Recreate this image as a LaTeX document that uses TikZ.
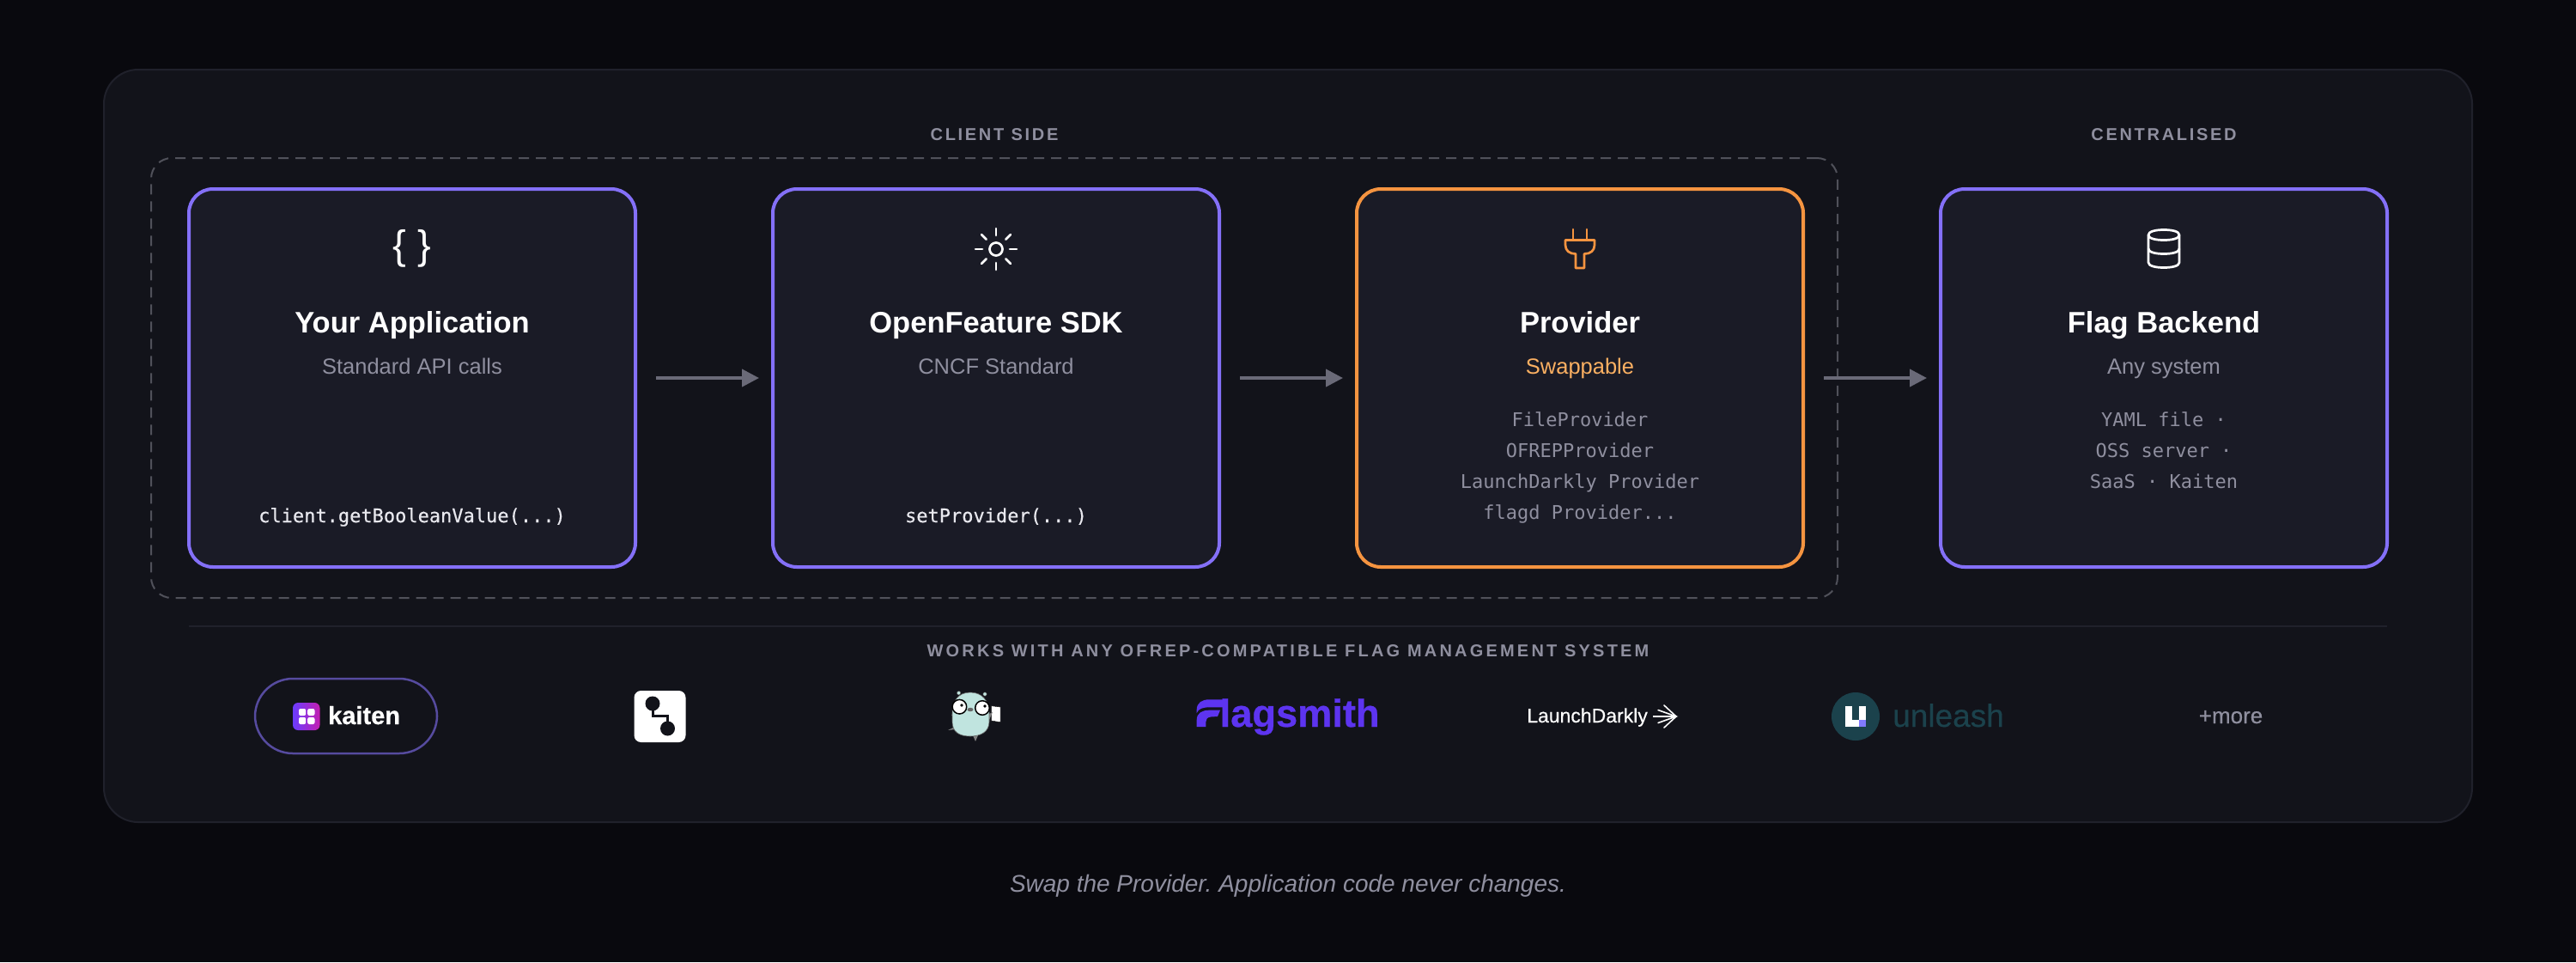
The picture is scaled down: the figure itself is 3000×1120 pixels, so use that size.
\documentclass[tikz,border=0pt]{standalone}
\usepackage{fontspec}
\usetikzlibrary{arrows.meta,calc}
\setmainfont{Liberation Sans}
\newfontfamily\monofam{DejaVu Sans Mono}
\newfontfamily\monomed[FakeBold=0.35]{DejaVu Sans Mono}
\newfontfamily\spacedfam[LetterSpace=13.5]{Liberation Sans}
\newfontfamily\widefam[LetterSpace=16]{Liberation Sans}
\newfontfamily\medfam[FakeBold=0.35]{Liberation Sans}
\newfontfamily\blackfam[FakeBold=0.6]{Liberation Sans Bold}
\definecolor{pagebg}{HTML}{09090E}
\definecolor{panelbg}{HTML}{12131A}
\definecolor{panelline}{HTML}{20212B}
\definecolor{cardbg}{HTML}{1A1B26}
\definecolor{violet}{HTML}{8470F8}
\definecolor{amber}{HTML}{F59440}
\definecolor{amberlite}{HTML}{FBB062}
\definecolor{muted}{HTML}{8F8F9F}
\definecolor{dash}{HTML}{50515A}
\definecolor{flow}{HTML}{6A6A78}
\definecolor{fs}{HTML}{5D34F0}
\definecolor{unl}{HTML}{1B424C}
\definecolor{code}{HTML}{E8E8EE}
\definecolor{kblue}{HTML}{6A3CFF}
\definecolor{kmag}{HTML}{C41FB0}
\definecolor{upurple}{HTML}{817AFE}
\definecolor{gopherbody}{HTML}{C0E4DF}
\tikzset{
  panel/.style={draw=panelline,fill=panelbg,line width=2pt,rounded corners=40pt,minimum width=2758pt,minimum height=876pt,inner sep=0pt},
  dashbox/.style={draw=dash,line width=2pt,dash pattern=on 12pt off 8pt,rounded corners=24pt,minimum width=1964pt,minimum height=512pt,inner sep=0pt},
  card/.style={fill=cardbg,line width=4pt,rounded corners=28pt,minimum width=520pt,minimum height=440pt,inner sep=0pt,outer sep=0pt},
  vcard/.style={card,draw=violet},
  ocard/.style={card,draw=amber},
  flowline/.style={draw=flow,line width=4pt,shorten <=24pt,shorten >=16pt,-{Triangle[length=20pt,width=20pt]}},
  txt/.style={inner sep=0pt,anchor=base,text=white},
  section/.style={txt,text=muted,font=\spacedfam\bfseries\fontsize{20}{24}\selectfont},
  title/.style={txt,font=\bfseries\fontsize{34.5}{40}\selectfont},
  sub/.style={txt,text=muted,font=\fontsize{25.5}{30}\selectfont},
  codeline/.style={txt,text=code,font=\monomed\fontsize{22}{26}\selectfont},
  listline/.style={txt,text=muted,font=\monofam\fontsize{22}{26}\selectfont},
  iconw/.style={draw=white,line width=2.7pt,line cap=round,line join=round},
  icono/.style={draw=amber,line width=2.7pt,line cap=round,line join=round},
}
\begin{document}
\begin{tikzpicture}[x=1pt,y=-1pt]
\frenchspacing
\useasboundingbox (0,0) rectangle (3000,1120);
\fill[pagebg] (0,0) rectangle (3000,1120);
\node[panel] (panelbox) at (1500,519) {};
\node[dashbox] (clientbox) at (1158,440) {};
\node[section] (clientlbl) at (1158,163) {CLIENT SIDE};
\node[section] (centrallbl) at (2520,163) {CENTRALISED};
% cards
\node[vcard] (app) at (480,440) {};
\node[vcard] (sdk) at (1160,440) {};
\node[ocard] (prov) at (1840,440) {};
\node[vcard] (back) at (2520,440) {};
% connectors
\draw[flowline] (app.east) -- (sdk.west);
\draw[flowline] (sdk.east) -- (prov.west);
\draw[flowline] (prov.east) -- (back.west);
% icons
\node[txt,font=\fontsize{47}{50}\selectfont] (braces) at (480,301) {\{ \}};
\draw[iconw] (1160,290) circle (7.5);
\foreach \a in {0,45,...,315}
  \draw[iconw] ($(1160,290)+(\a:16)$) -- ($(1160,290)+(\a:24)$);
\draw[icono] (1832,267) -- (1832,279.5) (1848,267) -- (1848,279.5);
\draw[icono] (1823,279.5) -- (1857,279.5) -- (1857,285) .. controls (1857,292) and (1852,295.5) .. (1845,295.5) -- (1845,312) -- (1835,312) -- (1835,295.5) .. controls (1828,295.5) and (1823,292) .. (1823,285) -- cycle;
\draw[iconw] (2502,273.5) .. controls (2502,269.5) and (2510,267.5) .. (2520,267.5) .. controls (2530,267.5) and (2538,269.5) .. (2538,273.5) .. controls (2538,277.5) and (2530,279.5) .. (2520,279.5) .. controls (2510,279.5) and (2502,277.5) .. (2502,273.5) -- cycle;
\draw[iconw] (2502,273.5) -- (2502,305.5) .. controls (2502,309.5) and (2510,311.5) .. (2520,311.5) .. controls (2530,311.5) and (2538,309.5) .. (2538,305.5) -- (2538,273.5);
\draw[iconw] (2502,289.5) .. controls (2502,293.5) and (2510,295.5) .. (2520,295.5) .. controls (2530,295.5) and (2538,293.5) .. (2538,289.5);
% card texts
\node[title] (t1) at (480,387) {Your Application};
\node[sub] (s1) at (480,435) {Standard API calls};
\node[codeline] (c1) at (480,608) {client.getBooleanValue(...)};
\node[title] (t2) at (1160,387) {OpenFeature SDK};
\node[sub] (s2) at (1160,435) {CNCF Standard};
\node[codeline] (c2) at (1160,608) {setProvider(...)};
\node[title] (t3) at (1840,387) {Provider};
\node[sub,text=amberlite] (s3) at (1840,435) {Swappable};
\node[listline] (l31) at (1840,496) {FileProvider};
\node[listline] (l32) at (1840,532) {OFREPProvider};
\node[listline] (l33) at (1840,568) {LaunchDarkly Provider};
\node[listline] (l34) at (1840,604) {flagd Provider...};
\node[title] (t4) at (2520,387) {Flag Backend};
\node[sub] (s4) at (2520,435) {Any system};
\node[listline] (l41) at (2520,496) {YAML file ·};
\node[listline] (l42) at (2520,532) {OSS server ·};
\node[listline] (l43) at (2520,568) {SaaS · Kaiten};
% lower strip
\draw[panelline,line width=2pt] (220,729) -- (2780,729);
\node[section,font=\widefam\bfseries\fontsize{20}{24}\selectfont] (works) at (1500,764) {WORKS WITH ANY OFREP-COMPATIBLE FLAG MANAGEMENT SYSTEM};
% kaiten
\node[draw=violet!60!panelbg,line width=2.5pt,rounded corners=44pt,minimum width=212pt,minimum height=87pt,inner sep=0pt] (kpill) at (403,833.5) {};
\fill[rounded corners=6pt,left color=kblue,right color=kmag] (341,818) rectangle (372.5,850);
\fill[white,rounded corners=2pt] (348,825) rectangle (356.2,833) (358.2,825) rectangle (366.5,833) (348,835) rectangle (356.2,843) (358.2,835) rectangle (366.5,843);
\node[txt,anchor=base west,font=\blackfam\fontsize{29}{34}\selectfont] (kname) at (382,843) {kaiten};
% git-like tile
\node[fill=white,rounded corners=8pt,minimum width=60pt,minimum height=60pt,inner sep=0pt] (tile) at (768.5,834) {};
\fill[panelbg] (760,819) circle (8.5) (777.5,848) circle (8.5);
\draw[panelbg,line width=3pt] (760,819) -- (760,833) -- (777.5,833) -- (777.5,848);
% gopher
\fill[gopherbody,draw=black!70] (1116.6,806.7) circle (2.2) (1147,808) circle (2.2);
\fill[white,draw=black] (1154.5,821.7) -- (1165,823) -- (1165,840.7) -- (1154.5,839) -- cycle;
\fill[gray] (1108,832) -- (1114,830) -- (1112,836) -- cycle (1104,850) -- (1112,846) -- (1113,849) -- cycle (1133,856) -- (1139,856) -- (1136,863) -- cycle (1150,832) -- (1156,829) -- (1152,838) -- cycle;
\fill[gopherbody,draw=black!60,line width=.6pt] (1130,806) .. controls (1144,806) and (1152,816) .. (1152,830) -- (1152,840) .. controls (1152,852) and (1142,857) .. (1130,857) .. controls (1117,857) and (1109,852) .. (1109,840) -- (1109,830) .. controls (1109,816) and (1116,806) .. (1130,806) -- cycle;
\filldraw[fill=white,draw=black,line width=1.5pt] (1117.4,822.7) circle (8.3) (1144,824) circle (8.3);
\fill[black] (1120,821) circle (1.8) (1147,822) circle (1.8);
\fill[gray!80!black] (1130,826) ellipse (3.5 and 2.2);
% flagsmith
\fill[fs] (1393.7,826) .. controls (1393.7,818) and (1400,814.3) .. (1408,814.3) -- (1427.4,814.3) -- (1427.4,823.3) -- (1409,823.3) .. controls (1400,823.3) and (1396,825) .. (1393.7,830) -- cycle;
\fill[fs] (1393.7,846) -- (1393.7,838) .. controls (1393.7,830) and (1400,826.7) .. (1408,826.7) -- (1421,826.7) -- (1418,834) -- (1410,834.5) .. controls (1406,835) and (1404.4,837) .. (1404.4,840) -- (1404.4,846) -- cycle;
\node[txt,anchor=base west,text=fs,font=\blackfam\fontsize{45.2}{50}\selectfont] (fsname) at (1420.5,846) {lagsmith};
% launchdarkly
\node[txt,anchor=base west,font=\medfam\fontsize{23}{28}\selectfont] (ldname) at (1778,841) {LaunchDarkly};
\draw[white,line width=2pt] (1925.4,834) -- (1952,834);
\draw[white,line width=1.6pt,line cap=round] (1938,821) -- (1952,834) -- (1938,847);
\draw[white,line width=1.6pt,line cap=round] (1931,826.5) -- (1952,834) -- (1931,841.5);
% unleash
\node[fill=unl,circle,minimum size=56pt,inner sep=0pt] (ulogo) at (2161,834) {};
\fill[white] (2149,822) rectangle (2173,845.7);
\fill[unl] (2157.3,822) rectangle (2165,838.3);
\fill[upurple] (2165,838.3) rectangle (2173,845.7);
\node[txt,anchor=base west,text=unl,font=\medfam\fontsize{37}{42}\selectfont] (uname) at (2204,846) {unleash};
% more
\node[txt,text=muted,font=\medfam\fontsize{26}{30}\selectfont] (more) at (2598,842) {+more};
% caption
\node[txt,text=muted,font=\itshape\fontsize{28}{34}\selectfont] (caption) at (1500,1038) {Swap the Provider. Application code never changes.};
\end{tikzpicture}
\end{document}
